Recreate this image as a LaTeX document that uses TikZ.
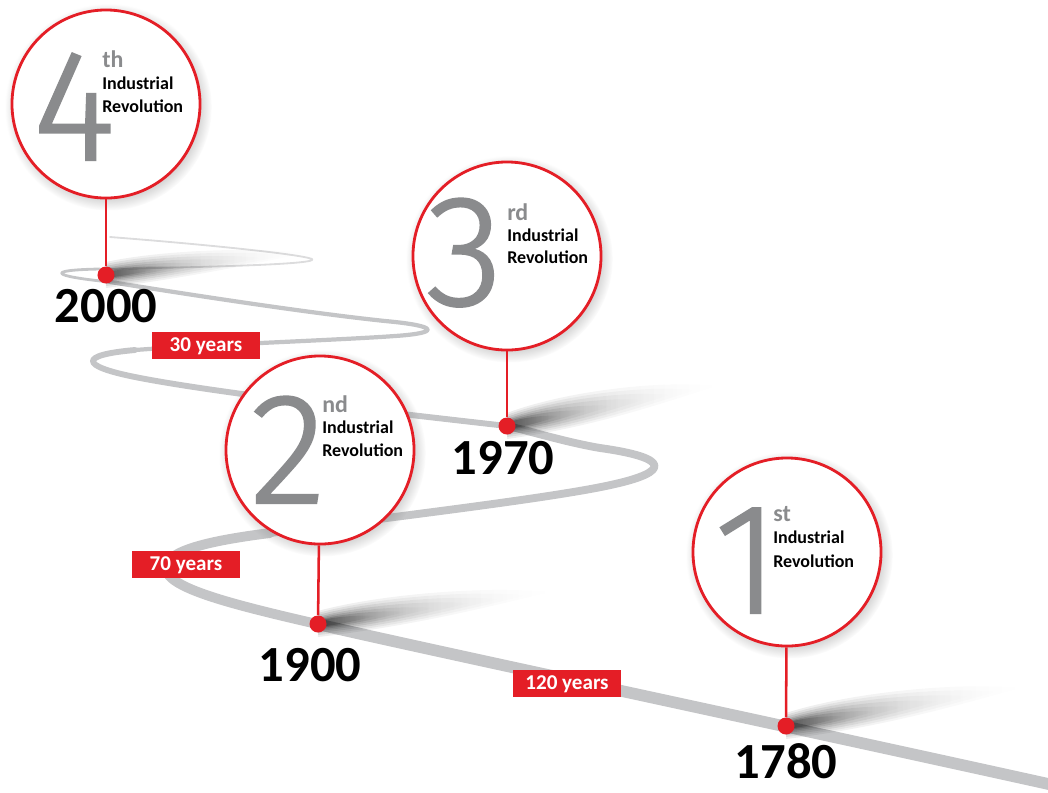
\documentclass[tikz,border=0pt]{standalone}
\usepackage{fontspec}
\setmainfont{Carlito}
\newfontfamily\numfont{Fira Sans Light}[FakeBold=1.5]
\usetikzlibrary{shadows,fadings}

\definecolor{ired}{RGB}{228,30,38}
\definecolor{numgray}{RGB}{138,139,141}
\definecolor{roadgray}{RGB}{196,197,199}

\tikzfading[name=tailfade, left color=transparent!0, middle color=transparent!70, right color=transparent!100]

\tikzset{
  ring/.style={circle, draw=ired, line width=2pt, fill=white, minimum size=4.7cm, inner sep=0pt,
    circular drop shadow={shadow xshift=1.5pt, shadow yshift=-2pt, opacity=.4}},
  yeardot/.style={circle, fill=ired, minimum size=0.425cm, inner sep=0pt},
  pinline/.style={ired, line width=1.8pt},
  bignum/.style={anchor=base west, inner sep=0pt, text=numgray, font=\numfont\fontsize{112}{112}\selectfont},
  ordsup/.style={anchor=base west, inner sep=0pt, text=numgray, font=\bfseries\fontsize{17}{17}\selectfont},
  irtext/.style={anchor=base west, inner sep=0pt, font=\bfseries\fontsize{12.8}{12.8}\selectfont},
  yearlabel/.style={anchor=base, inner sep=0pt, font=\bfseries\fontsize{36}{36}\selectfont},
  spanbox/.style={fill=ired, text=white, font=\bfseries\fontsize{15}{15}\selectfont,
    minimum width=2.7cm, minimum height=0.675cm, inner sep=0pt, text height=9.5pt, text depth=0pt},
  road/.style={draw=roadgray, line cap=round, line join=round},
}

\begin{document}
\begin{tikzpicture}[x=0.025cm, y=-0.025cm]
\useasboundingbox (0,0) rectangle (1048,792);

% the road, from near to far
\draw[road, line width=8.3pt] (1062,787) .. controls (800,729) and (420,648) .. (317,624);
\draw[road, line width=7pt] (317,624) .. controls (230,604) and (168,588) .. (166,569)
  .. controls (164,550) and (215,540) .. (270,533);
\draw[road, line width=5.6pt] (270,533) .. controls (400,516) and (560,497) .. (615,484)
  .. controls (668,472) and (672,458) .. (600,448) .. controls (565,442) and (530,431) .. (507,426);
\draw[road, line width=4.2pt] (507,426) .. controls (420,416) and (220,394) .. (135,377)
  .. controls (80,366) and (78,355) .. (135,350);
\draw[road, line width=3pt] (135,350) .. controls (200,345) and (340,340) .. (395,336)
  .. controls (440,333) and (440,326) .. (385,321) .. controls (300,312) and (180,293) .. (110,282);
\draw[road, line width=2pt] (110,282) .. controls (50,276) and (45,270) .. (100,269);
\draw[road, draw=roadgray!60, line width=1.3pt] (100,269) .. controls (220,267) and (320,264) .. (312,259)
  .. controls (300,254) and (200,244) .. (110,237);

% soft shadows behind the dots
\foreach \px/\py/\L/\R in {106/275/200/22, 507/426/210/40, 318/624/233/32, 786/726/235/38}
  \foreach \h/\f/\o in {13/1/.07, 11/.9/.08, 9/.78/.1, 7/.65/.12, 5.5/.5/.15, 4/.38/.2, 3/.25/.25}
    \fill[black, opacity=\o, path fading=tailfade] (\px,\py+\h)
      .. controls ({\px+0.45*\f*\L},{\py+0.3*\h-0.1*\f*\R}) and ({\px+0.8*\f*\L},{\py+0.2*\h-0.75*\f*\R}) .. ({\px+\f*\L},{\py-\f*\R})
      .. controls ({\px+0.7*\f*\L},{\py-\f*\R-0.5*\h}) and ({\px+0.25*\f*\L},{\py-0.5*\f*\R-\h}) .. (\px,\py-\h) -- cycle;

% time spans
\node[spanbox] (g30) at (206,345) {30 years};
\node[spanbox] (g70) at (186,564) {70 years};
\node[spanbox] (g120) at (567,683) {120 years};

% 4th
\node[ring] (c4) at (106,104) {};
\node[yeardot] (p4) at (106,275) {};
\draw[pinline] (c4) -- (p4);
\node[bignum] (n4) at (33,160) {4};
\node[ordsup] (s4) at (102,67) {th};
\node[irtext] (i4) at (102,89) {Industrial};
\node[irtext] (r4) at (102,112) {Revolution};
\node[yearlabel] (y4) at (106,322) {2000};

% 3rd
\node[ring] (c3) at (507,256) {};
\node[yeardot] (p3) at (507,426) {};
\draw[pinline] (c3) -- (p3);
\node[bignum] (n3) at (426,305) {3};
\node[ordsup] (s3) at (507,220) {rd};
\node[irtext] (i3) at (507,241) {Industrial};
\node[irtext] (r3) at (507,263) {Revolution};
\node[yearlabel] (y3) at (503,474) {1970};

% 2nd
\node[ring] (c2) at (320,450) {};
\node[yeardot] (p2) at (318,624) {};
\draw[pinline] (c2) -- (p2);
\node[bignum] (n2) at (250,503) {2};
\node[ordsup] (s2) at (322,412) {nd};
\node[irtext] (i2) at (322,433) {Industrial};
\node[irtext] (r2) at (322,456) {Revolution};
\node[yearlabel] (y2) at (310,681) {1900};

% 1st
\node[ring] (c1) at (787,552) {};
\node[yeardot] (p1) at (786,726) {};
\draw[pinline] (c1) -- (p1);
\node[bignum] (n1) at (714,613) {1};
\node[ordsup] (s1) at (773,521) {st};
\node[irtext] (i1) at (773,543) {Industrial};
\node[irtext] (r1) at (773,567) {Revolution};
\node[yearlabel] (y1) at (786,778) {1780};
\end{tikzpicture}
\end{document}
